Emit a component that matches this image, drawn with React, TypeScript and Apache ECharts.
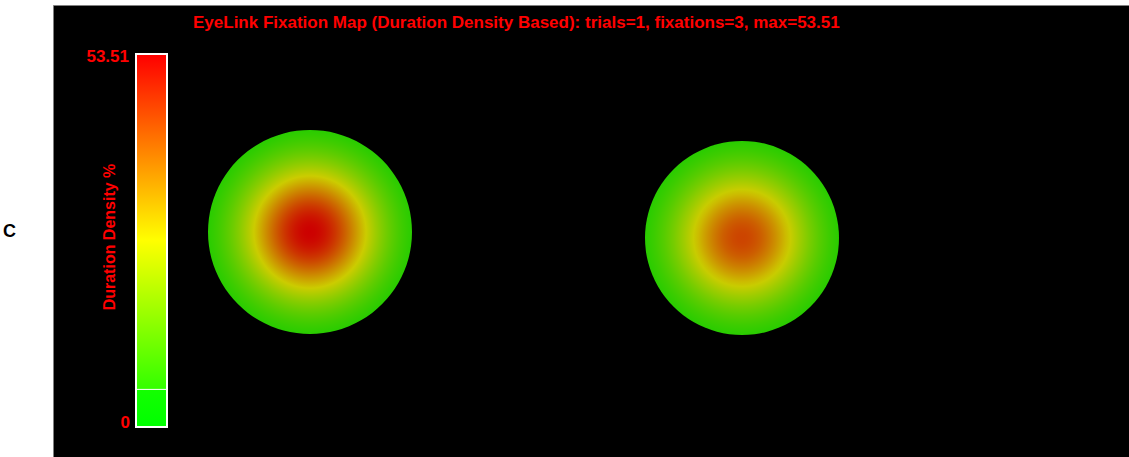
import React, { useEffect, useRef } from "react";
import * as echarts from "echarts";

// ---- data ----
const titleText =
  "EyeLink Fixation Map (Duration Density Based): trials=1, fixations=3, max=53.51";
const maxValue = 53.51;
const minValue = 0;
const colorbarTitle = "Duration Density %";
const rowLabel = "C";

// fixation density blobs (screen coordinates in panel units)
const blobX = [257, 689];
const blobY = [227, 233];
const blobRadius = [102, 97];
const blobPeak = [53.51, 44.6];
const blobSpread = [2.3, 2.12]; // gaussian falloff constant over normalized radius

// colormap (fraction of max -> colour)
const cmapFractions = [0, 0.1, 0.1, 0.5, 1];
const cmapColors = ["#00ff00", "#14ff00", "#33ff00", "#ffff00", "#ff0000"];

const PANEL_W = 1076;
const PANEL_H = 452;

function hexToRgb(h: string) {
  const n = parseInt(h.slice(1), 16);
  return [(n >> 16) & 255, (n >> 8) & 255, n & 255];
}
function cmap(t: number) {
  t = Math.max(0.1001, Math.min(1, t));
  for (let i = 1; i < cmapFractions.length; i++) {
    if (t <= cmapFractions[i] && cmapFractions[i] > cmapFractions[i - 1]) {
      const a = hexToRgb(cmapColors[i - 1]);
      const b = hexToRgb(cmapColors[i]);
      const f = (t - cmapFractions[i - 1]) / (cmapFractions[i] - cmapFractions[i - 1]);
      const c = a.map((v, k) => Math.round(v + (b[k] - v) * f));
      return `rgb(${c[0]},${c[1]},${c[2]})`;
    }
  }
  return cmapColors[cmapColors.length - 1];
}

export default function App() {
  const ref = useRef<HTMLDivElement>(null);
  useEffect(() => {
    if (!ref.current) return;
    const chart = echarts.init(ref.current, undefined, { renderer: "svg" });

    const blobData = blobX.map((x, i) => [x, blobY[i], blobRadius[i], blobPeak[i], blobSpread[i]]);

    // colorbar geometry
    const cbX = 137, cbTop = 55, cbW = 29, cbH = 371;
    const splitFrac = cmapFractions[1];
    const upperStops = [];
    for (let i = 2; i < cmapFractions.length; i++) {
      upperStops.push({
        offset: 1 - (cmapFractions[i] - splitFrac) / (1 - splitFrac),
        color: cmapColors[i],
      });
    }
    upperStops.sort((a, b) => a.offset - b.offset);

    const font = "'Liberation Sans', Arial, sans-serif";

    chart.setOption({
      animation: false,
      backgroundColor: "#ffffff",
      title: {
        text: titleText,
        left: 188,
        top: 9,
        textStyle: { color: "#ff0000", fontSize: 17, fontWeight: "bold", fontFamily: font },
      },
      grid: { left: 53, top: 5, width: PANEL_W, height: PANEL_H },
      xAxis: { type: "value", min: 0, max: PANEL_W, show: false },
      yAxis: { type: "value", min: 0, max: PANEL_H, inverse: true, show: false },
      graphic: [
        {
          type: "rect",
          z: -10,
          shape: { x: 53.5, y: 5.5, width: 1080, height: 460 },
          style: { fill: "#000000", stroke: "#808080", lineWidth: 1 },
          silent: true,
        },
        {
          type: "text",
          left: 3,
          top: 222,
          style: { text: rowLabel, fill: "#000000", font: `bold 18px ${font}` },
        },
        {
          type: "rect",
          shape: { x: cbX - 1, y: cbTop - 1, width: cbW + 2, height: cbH + 2 },
          style: { fill: "none", stroke: "#ffffff", lineWidth: 2 },
          z: 10,
        },
        {
          type: "rect",
          shape: { x: cbX, y: cbTop, width: cbW, height: cbH * (1 - splitFrac) },
          style: {
            fill: new echarts.graphic.LinearGradient(0, 0, 0, 1, upperStops),
          },
        },
        {
          type: "rect",
          shape: { x: cbX, y: cbTop + cbH * (1 - splitFrac), width: cbW, height: cbH * splitFrac },
          style: {
            fill: new echarts.graphic.LinearGradient(0, 0, 0, 1, [
              { offset: 0, color: cmapColors[1] },
              { offset: 1, color: cmapColors[0] },
            ]),
          },
        },
        {
          type: "line",
          shape: {
            x1: cbX,
            y1: cbTop + cbH * (1 - splitFrac) + 0.5,
            x2: cbX + cbW,
            y2: cbTop + cbH * (1 - splitFrac) + 0.5,
          },
          style: { stroke: "#ffffff", lineWidth: 1 },
          z: 10,
        },
        {
          type: "text",
          x: 129,
          y: 56,
          style: {
            text: String(maxValue),
            fill: "#ff0000",
            font: `bold 17px ${font}`,
            textAlign: "right",
            textVerticalAlign: "middle",
          },
        },
        {
          type: "text",
          x: 130,
          y: 422,
          style: {
            text: String(minValue),
            fill: "#ff0000",
            font: `bold 17px ${font}`,
            textAlign: "right",
            textVerticalAlign: "middle",
          },
        },
        {
          type: "text",
          x: 109,
          y: 237,
          rotation: Math.PI / 2,
          style: {
            text: colorbarTitle,
            fill: "#ff0000",
            font: `bold 16px ${font}`,
            textAlign: "center",
            textVerticalAlign: "middle",
          },
        },
      ],
      series: [
        {
          type: "custom",
          coordinateSystem: "cartesian2d",
          data: blobData,
          clip: false,
          renderItem: (params: any, api: any) => {
            const c = api.coord([api.value(0), api.value(1)]);
            const r = api.size([api.value(2), 0])[0];
            const peak = api.value(3);
            const k = api.value(4);
            const stops = [];
            for (let i = 0; i <= 20; i++) {
              const d = i / 20;
              const v = peak * Math.exp(-k * d * d);
              stops.push({ offset: d, color: cmap(v / maxValue) });
            }
            return {
              type: "circle",
              shape: { cx: c[0], cy: c[1], r },
              style: {
                fill: new echarts.graphic.RadialGradient(0.5, 0.5, 0.5, stops),
                opacity: 0.8,
              },
            };
          },
        },
      ],
    });
    return () => chart.dispose();
  }, []);
  return (
    <div
      ref={ref}
      style={{ position: "absolute", left: 0, top: 0, width: 1129, height: 457 }}
    />
  );
}
